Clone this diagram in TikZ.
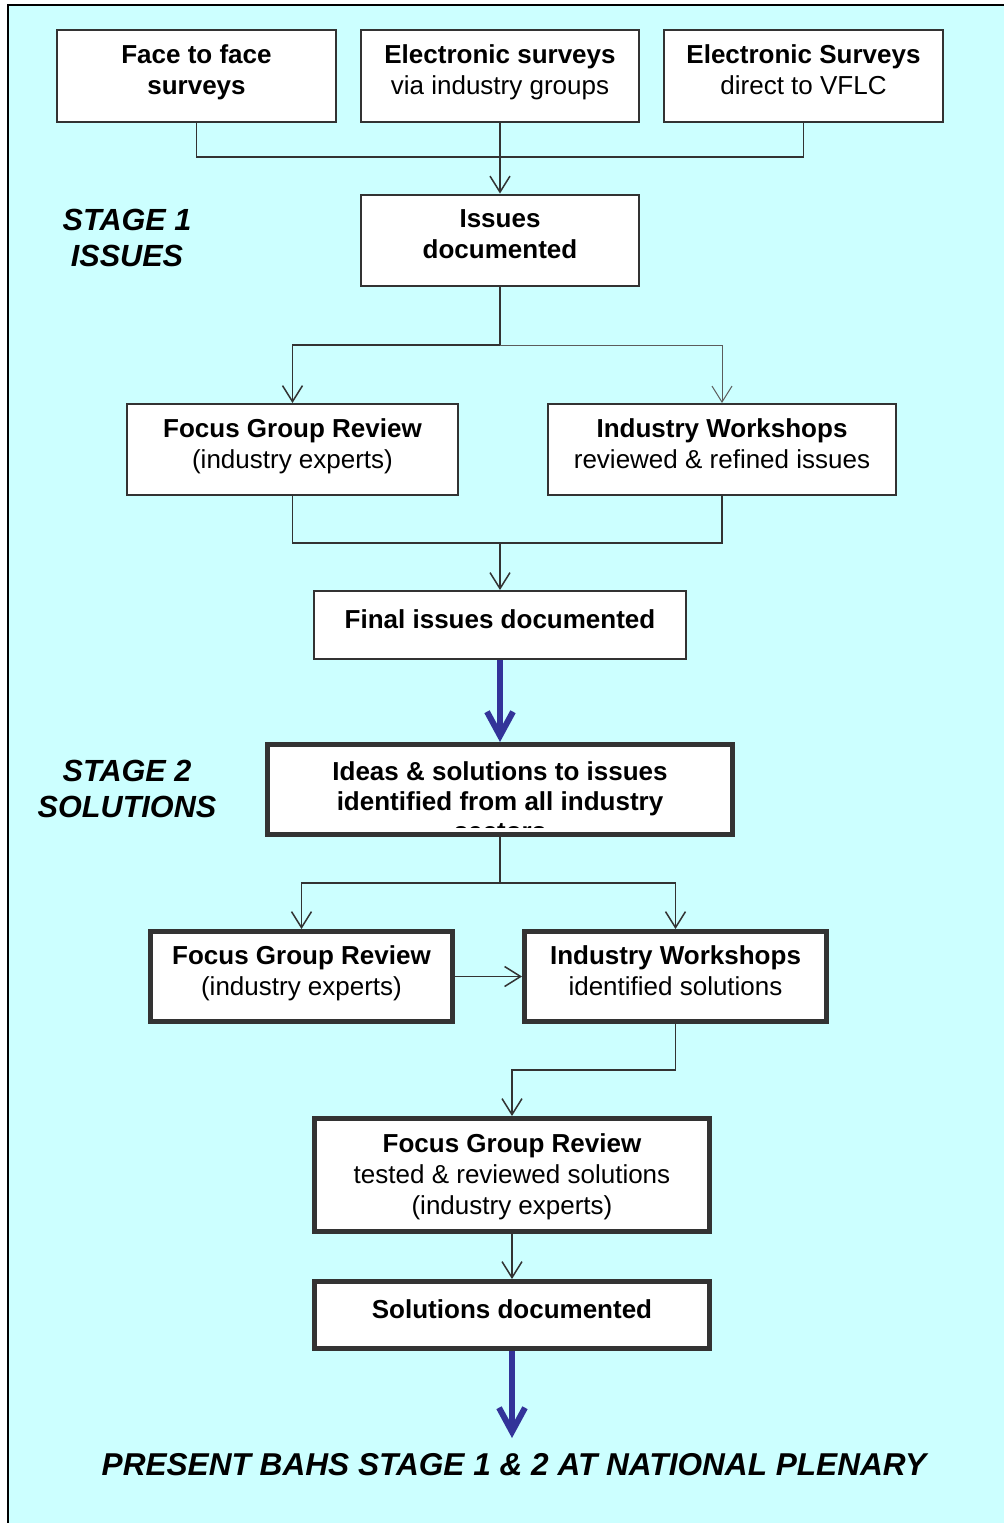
\documentclass[tikz,border=0pt]{standalone}
\usepackage{fontspec}
\setmainfont{Liberation Sans}
\usetikzlibrary{arrows.meta}
\definecolor{bgcyan}{HTML}{CCFFFF}
\definecolor{boxgray}{HTML}{333333}
\definecolor{flowblue}{HTML}{333399}

\begin{document}
\begin{tikzpicture}[x=0.5pt,y=-0.5pt]
        \tikzstyle{every node}+=[inner sep=0pt, align=center, font=\fontsize{13}{15.5}\selectfont]
        \tikzstyle{thinbox}=[draw=boxgray, fill=white, line width=1pt, text depth=6pt]
        \tikzstyle{thickbox}=[draw=boxgray, fill=white, line width=2.5pt, text depth=6pt]
        \tikzstyle{link}=[draw=boxgray, line width=0.75pt]
        \tikzstyle{linkarrow}=[link, -{Straight Barb[length=8pt,width=10pt]}]
        \tikzstyle{bigarrow}=[draw=flowblue, line width=3pt, -{Straight Barb[length=12pt,width=13pt]}]
        \tikzstyle{stage}=[font=\fontsize{15.3}{18}\selectfont\bfseries\itshape]
        \useasboundingbox (0,0) rectangle (1004,1523);
        \fill [bgcyan] (8,5) rectangle (1004,1523);
        \draw [black, line width=1pt] (8,1523) -- (8,5) -- (1004,5);
        \node [thinbox, minimum width=139.5pt, minimum height=46pt] (face) at (196.5,76) {\bfseries Face to face\\\bfseries surveys};
        \node [thinbox, minimum width=139pt, minimum height=46pt] (esurv) at (500,76) {\bfseries Electronic surveys\\via industry groups};
        \node [thinbox, minimum width=139.5pt, minimum height=46pt] (vflc) at (803.5,76) {\bfseries Electronic Surveys\\direct to VFLC};
        \node [thinbox, minimum width=139pt, minimum height=45.5pt] (issues) at (500,240) {\bfseries Issues\\\bfseries documented};
        \node [thinbox, minimum width=165.5pt, minimum height=45.5pt] (focus1) at (292.5,449.5) {\bfseries Focus Group Review\\(industry experts)};
        \node [thinbox, minimum width=174pt, minimum height=45.5pt] (work1) at (722,449.5) {\bfseries Industry Workshops\\reviewed \& refined issues};
        \node [thinbox, minimum width=186pt, minimum height=34pt] (final) at (500,625) {\bfseries Final issues documented};
        \node [thickbox, minimum width=232.5pt, minimum height=45pt] (ideas) at (500,789.5) {};
        \begin{scope}
        \clip ([shift={(1.25pt,4.75pt)}]ideas.south west) rectangle ([shift={(-1.25pt,-1.25pt)}]ideas.north east);
        \node [font=\fontsize{13}{15}\selectfont\bfseries] (ideastext) at (500,801) {Ideas \& solutions to issues\\identified from all industry\\sectors};
        \end{scope}
        \node [thickbox, minimum width=151pt, minimum height=45pt] (focus2) at (301.5,976.5) {\bfseries Focus Group Review\\(industry experts)};
        \node [thickbox, minimum width=151pt, minimum height=45pt] (work2) at (675.5,976.5) {\bfseries Industry Workshops\\identified solutions};
        \node [thickbox, minimum width=197.5pt, minimum height=56.5pt, text depth=1pt] (tested) at (512,1175) {\bfseries Focus Group Review\\tested \& reviewed solutions\\(industry experts)};
        \node [thickbox, minimum width=197.5pt, minimum height=33.5pt] (soldoc) at (512,1315) {\bfseries Solutions documented};
        \node [stage] (stage1) at (127,238) {STAGE 1\\ISSUES};
        \node [stage] (stage2) at (127,789) {STAGE 2\\SOLUTIONS};
        \node [font=\fontsize{15.8}{18}\selectfont\bfseries\itshape] (plenary) at (514,1465) {PRESENT BAHS STAGE 1 \& 2 AT NATIONAL PLENARY};
        \coordinate (j1) at (500,157);
        \coordinate (j2) at (500,345);
        \coordinate (j3) at (500,543);
        \coordinate (j4) at (500,883);
        \coordinate (j5) at (512,1070);
        \coordinate (pend) at (512,1438);
        \draw [link] (face.south) |- (j1);
        \draw [link] (vflc.south) |- (j1);
        \draw [linkarrow] (esurv.south) -- (issues.north);
        \draw [link] (issues.south) -- (j2);
        \draw [linkarrow] (j2) -| (focus1.north);
        \draw [linkarrow, draw=boxgray!80, line width=0.5pt] (j2) -| (work1.north);
        \draw [link] (focus1.south) |- (j3);
        \draw [link] (work1.south) |- (j3);
        \draw [linkarrow] (j3) -- (final.north);
        \draw [bigarrow] (final.south) -- (ideas.north);
        \draw [link] (ideas.south) -- (j4);
        \draw [linkarrow] (j4) -| (focus2.north);
        \draw [linkarrow] (j4) -| (work2.north);
        \draw [linkarrow] (focus2.east) -- (work2.west);
        \draw [linkarrow] (work2.south) |- (j5) -- (tested.north);
        \draw [linkarrow] (tested.south) -- (soldoc.north);
        \draw [bigarrow] (soldoc.south) -- (pend);
\end{tikzpicture}
\end{document}
